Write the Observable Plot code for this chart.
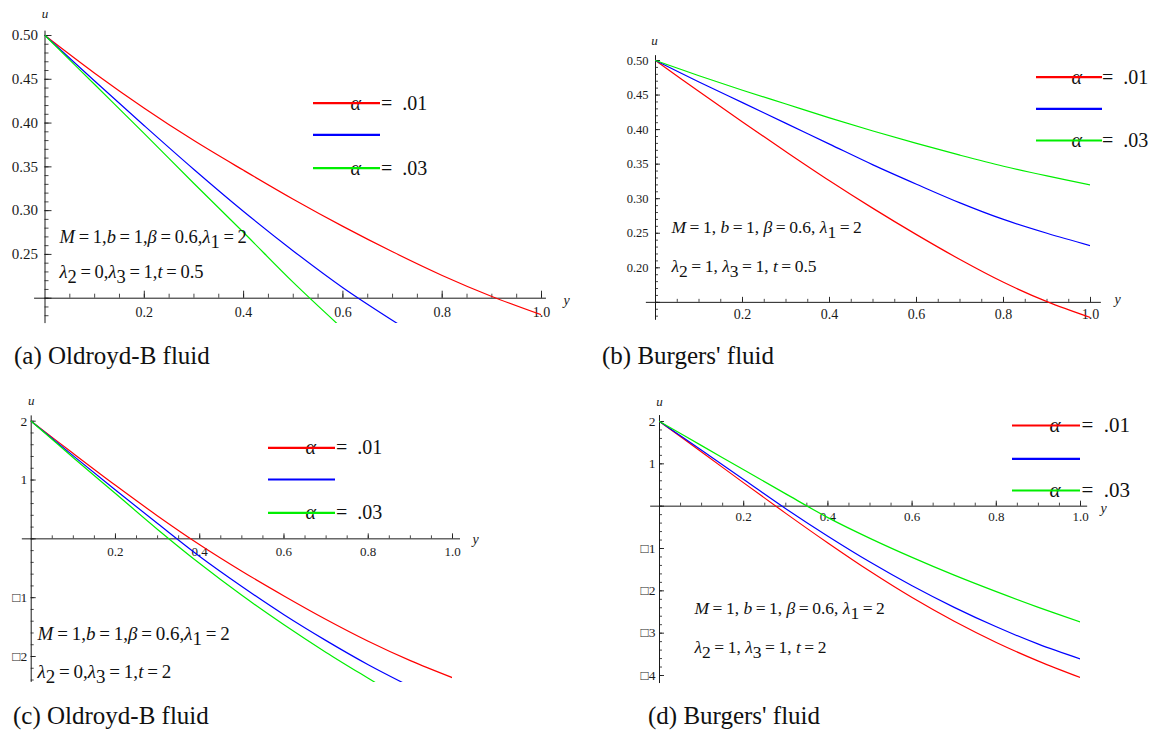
<!DOCTYPE html>
<html><head><meta charset="utf-8">
<script src="https://cdn.jsdelivr.net/npm/d3@7"></script>
<script src="https://cdn.jsdelivr.net/npm/@observablehq/plot@0.6"></script>
<style>
html,body{margin:0;padding:0;background:#fff;}
#root{position:relative;width:1156px;height:735px;overflow:hidden;font-family:"Liberation Serif","Times New Roman",serif;background:#fff;color:#111;}
.panel{position:absolute;}
.cap{position:absolute;font-size:25px;line-height:25px;white-space:nowrap;color:#111;}
</style></head><body><div id="root"></div>
<script>
// ---------- data ----------
const yPos = [0, 0.1, 0.2, 0.3, 0.4, 0.5, 0.6, 0.7, 0.8, 0.9, 1.0];

// (a) Oldroyd-B, t = 0.5
const aRed   = [0.5, 0.457, 0.417, 0.380, 0.346, 0.313, 0.282, 0.253, 0.226, 0.202, 0.181];
const aBlueY = [0, 0.1, 0.2, 0.3, 0.4, 0.5, 0.6, 0.71];
const aBlue  = [0.5, 0.448, 0.397, 0.347, 0.299, 0.254, 0.212, 0.171];
const aGreenY = [0, 0.1, 0.2, 0.3, 0.4, 0.5, 0.594];
const aGreen  = [0.5, 0.444, 0.388, 0.331, 0.275, 0.218, 0.168];

// (b) Burgers', t = 0.5
const bRed   = [0.5, 0.455, 0.411, 0.368, 0.326, 0.286, 0.248, 0.212, 0.179, 0.151, 0.128];
const bBlue  = [0.5, 0.469, 0.439, 0.409, 0.379, 0.349, 0.321, 0.294, 0.270, 0.250, 0.232];
const bGreen = [0.5, 0.478, 0.457, 0.437, 0.417, 0.398, 0.380, 0.363, 0.347, 0.333, 0.320];

// (c) Oldroyd-B, t = 2
const cRed   = [2, 1.45, 0.91, 0.39, -0.10, -0.55, -0.97, -1.37, -1.74, -2.07, -2.36];
const cBlueY = [0, 0.1, 0.2, 0.3, 0.4, 0.5, 0.6, 0.7, 0.8, 0.9];
const cBlue  = [2, 1.41, 0.83, 0.26, -0.30, -0.81, -1.29, -1.73, -2.14, -2.51];
const cGreenY = [0, 0.1, 0.2, 0.3, 0.4, 0.5, 0.6, 0.7, 0.8, 0.83];
const cGreen  = [2, 1.38, 0.77, 0.16, -0.42, -0.96, -1.46, -1.93, -2.37, -2.50];

// (d) Burgers', t = 2
const dRed   = [2, 1.28, 0.55, -0.17, -0.87, -1.54, -2.16, -2.72, -3.22, -3.66, -4.05];
const dBlue  = [2, 1.32, 0.63, -0.06, -0.71, -1.32, -1.88, -2.39, -2.85, -3.26, -3.61];
const dGreen = [2, 1.43, 0.86, 0.29, -0.27, -0.76, -1.21, -1.63, -2.02, -2.39, -2.74];

const seriesColors = ["#ff0000", "#0000ff", "#00ee00"];
const legendLabels = ["*α*\u2003=\u2002.01", "", "*α*\u2003=\u2002.03"];
const captions = ["(a) Oldroyd-B fluid", "(b) Burgers' fluid", "(c) Oldroyd-B fluid", "(d) Burgers' fluid"];

const xTickValues = [0.2, 0.4, 0.6, 0.8, 1.0];
const xTickLabels = ["0.2", "0.4", "0.6", "0.8", "1.0"];
const aTickValues = [0.25, 0.30, 0.35, 0.40, 0.45, 0.50];
const aTickLabels = ["0.25", "0.30", "0.35", "0.40", "0.45", "0.50"];
const bTickValues = [0.20, 0.25, 0.30, 0.35, 0.40, 0.45, 0.50];
const bTickLabels = ["0.20", "0.25", "0.30", "0.35", "0.40", "0.45", "0.50"];
const cTickValues = [-2, -1, 1, 2];
const cTickLabels = ["□2", "□1", "1", "2"];
const dTickValues = [-4, -3, -2, -1, 1, 2];
const dTickLabels = ["□4", "□3", "□2", "□1", "1", "2"];

const T = "\u2009";
const paramsA = [`*M*${T}=${T}1,*b*${T}=${T}1,*β*${T}=${T}0.6,*λ*_1${T}=${T}2`, `*λ*_2${T}=${T}0,*λ*_3${T}=${T}1,*t*${T}=${T}0.5`];
const paramsB = [`*M*${T}=${T}1, *b*${T}=${T}1, *β*${T}=${T}0.6, *λ*_1${T}=${T}2`, `*λ*_2${T}=${T}1, *λ*_3${T}=${T}1, *t*${T}=${T}0.5`];
const paramsC = [`*M*${T}=${T}1,*b*${T}=${T}1,*β*${T}=${T}0.6,*λ*_1${T}=${T}2`, `*λ*_2${T}=${T}0,*λ*_3${T}=${T}1,*t*${T}=${T}2`];
const paramsD = [`*M*${T}=${T}1, *b*${T}=${T}1, *β*${T}=${T}0.6, *λ*_1${T}=${T}2`, `*λ*_2${T}=${T}1, *λ*_3${T}=${T}1, *t*${T}=${T}2`];

// ---------- layout ----------
const xMinorAll = d3.range(1, 21).map(i => +(i * 0.05).toFixed(2));
const panels = [
  {left: 0, top: 0, width: 580, height: 330, x0px: 44.5, x1px: 541, uA: 0.5, uApx: 35, uB: 0.2, uBpx: 297.7,
   yDomain: [0.171, 0.52], axisU: 0.2, xAxis: [-0.021, 1.01], uAxis: [0.171, 0.505],
   uMinor: d3.range(18, 51).map(i => i / 100), uMajorTicks: d3.range(4, 11).map(i => i * 0.05),
   uTicks: aTickValues, uLabels: aTickLabels, tick: [7, 4], xFont: 14, yFont: 15, xLabelDy: 14, yLabelDx: -7,
   uName: [44.5, 13], yName: [566, 300],
   curves: [{y: yPos, u: aRed}, {y: aBlueY, u: aBlue}, {y: aGreenY, u: aGreen}],
   legend: {x0: 313, x1: 380, ys: [102.7, 134.3, 167.7], tx: 350, font: 20},
   params: {lines: paramsA, x: 59, base: [242, 277], font: 18.5}},
  {left: 590, top: 30, width: 566, height: 300, x0px: 655, x1px: 1090, uA: 0.5, uApx: 60, uB: 0.2, uBpx: 267.3,
   yDomain: [0.124, 0.52], axisU: 0.15, xAxis: [-0.021, 1.025], uAxis: [0.124, 0.507],
   uMinor: d3.range(13, 51).map(i => i / 100), uMajorTicks: d3.range(3, 11).map(i => i * 0.05),
   uTicks: bTickValues, uLabels: bTickLabels, tick: [5, 3], xFont: 14, yFont: 12.5, xLabelDy: 12, yLabelDx: -7,
   uName: [654, 40], yName: [1117, 299],
   curves: [{y: yPos, u: bRed}, {y: yPos, u: bBlue}, {y: yPos, u: bGreen}],
   legend: {x0: 1036, x1: 1102, ys: [76.7, 108.3, 140], tx: 1071, font: 20},
   params: {lines: paramsB, x: 671, base: [232.7, 271.7], font: 17.5}},
  {left: 0, top: 380, width: 480, height: 310, x0px: 30.7, x1px: 452, uA: 2, uApx: 420.7, uB: -2, uBpx: 656,
   yDomain: [-2.44, 2.3], axisU: 0, xAxis: [-0.021, 1.019], uAxis: [-2.44, 2.09],
   uMinor: d3.range(-12, 11).map(i => i / 5), uMajorTicks: [-2, -1, 0, 1, 2],
   uTicks: cTickValues, uLabels: cTickLabels, tick: [5, 3], xFont: 13, yFont: 13.5, xLabelDy: 13, yLabelDx: -4,
   uName: [30.7, 400], yName: [475, 539],
   curves: [{y: yPos, u: cRed}, {y: cBlueY, u: cBlue}, {y: cGreenY, u: cGreen}],
   legend: {x0: 268, x1: 335, ys: [447.3, 479, 512.3], tx: 305, font: 20},
   params: {lines: paramsC, x: 37, base: [639, 677], font: 19}},
  {left: 630, top: 380, width: 526, height: 310, x0px: 659, x1px: 1080, uA: 2, uApx: 421, uB: -4, uBpx: 675,
   yDomain: [-4.19, 2.4], axisU: 0, xAxis: [-0.021, 1.017], uAxis: [-4.19, 2.14],
   uMinor: d3.range(-20, 11).map(i => i / 5), uMajorTicks: [-4, -3, -2, -1, 0, 1, 2],
   uTicks: dTickValues, uLabels: dTickLabels, tick: [5, 3], xFont: 13, yFont: 13.5, xLabelDy: 11, yLabelDx: -4,
   uName: [659, 401.7], yName: [1103, 508],
   curves: [{y: yPos, u: dRed}, {y: yPos, u: dBlue}, {y: yPos, u: dGreen}],
   legend: {x0: 1012, x1: 1080, ys: [425, 458.3, 490], tx: 1049, font: 21},
   params: {lines: paramsD, x: 694, base: [613, 652], font: 17.5}}
];
const captionPos = [[14, 343], [602, 343], [13, 703], [648, 703]];

// ---------- rendering ----------
function rich(svg) {
  d3.select(svg).selectAll("text").each(function () {
    const s = this.textContent;
    if (!/[*_]/.test(s)) return;
    const el = d3.select(this);
    el.text(null);
    const re = /\*([^*]+)\*|_(\d)|([^*_]+)/g;
    let m, shifted = false;
    while ((m = re.exec(s))) {
      if (m[2]) { el.append("tspan").attr("dy", "0.3em").text(m[2]); shifted = true; continue; }
      const t = el.append("tspan").text(m[1] || m[3]);
      if (m[1]) t.attr("font-style", "italic");
      if (shifted) { t.attr("dy", "-0.3em"); shifted = false; }
    }
  });
}

const ink = "#1a1a1a";
const root = document.getElementById("root");

function buildPanel(p) {
  const kx = p.x1px - p.x0px;
  const ky = (p.uBpx - p.uApx) / (p.uA - p.uB);
  const py = u => p.uApx + (p.uA - u) * ky;
  const xd = px => (px - p.x0px) / kx;
  const ud = y => p.uA - (y - p.uApx) / ky;
  const mt = py(p.yDomain[1]) - p.top, mb = p.top + p.height - py(p.yDomain[0]);
  const ml = p.x0px - p.left, mr = p.left + p.width - p.x1px;
  const marks = [];
  marks.push(Plot.ruleY([p.axisU], {x1: p.xAxis[0], x2: p.xAxis[1], stroke: ink, strokeWidth: 1}));
  marks.push(Plot.ruleX([0], {y1: p.uAxis[0], y2: p.uAxis[1], stroke: ink, strokeWidth: 1}));
  marks.push(Plot.ruleX(xMinorAll, {x: d => d, y1: p.axisU, y2: p.axisU + p.tick[1] / ky, stroke: ink, strokeWidth: 0.8}));
  marks.push(Plot.ruleX(xTickValues, {x: d => d, y1: p.axisU, y2: p.axisU + p.tick[0] / ky, stroke: ink, strokeWidth: 0.9}));
  marks.push(Plot.ruleY(p.uMinor, {y: d => d, x1: 0, x2: p.tick[1] / kx, stroke: ink, strokeWidth: 0.8}));
  marks.push(Plot.ruleY(p.uMajorTicks, {y: d => d, x1: 0, x2: p.tick[0] / kx, stroke: ink, strokeWidth: 0.9}));
  marks.push(Plot.text(xTickValues, {x: d => d, y: p.axisU, dy: p.xLabelDy, text: (d, i) => xTickLabels[i], fontSize: p.xFont, fill: ink}));
  marks.push(Plot.text(p.uTicks, {x: 0, y: d => d, dx: p.yLabelDx, textAnchor: "end", text: (d, i) => p.uLabels[i], fontSize: p.yFont, fill: ink}));
  marks.push(Plot.text(["u"], {x: xd(p.uName[0]), y: ud(p.uName[1]), text: d => d, fontStyle: "italic", fontSize: 13, fill: ink}));
  marks.push(Plot.text(["y"], {x: xd(p.yName[0]), y: ud(p.yName[1]), text: d => d, fontStyle: "italic", fontSize: 14, fill: ink}));
  p.curves.forEach((c, i) => {
    const rows = c.y.map((v, j) => ({y: v, u: c.u[j]}));
    marks.push(Plot.line(rows, {x: "y", y: "u", stroke: seriesColors[i], strokeWidth: 1.2, curve: "catmull-rom", clip: true}));
  });
  const L = p.legend;
  legendLabels.forEach((lab, i) => {
    if (lab) marks.push(Plot.text([lab], {x: xd(L.tx), y: ud(L.ys[i]), text: d => d, textAnchor: "start", fontSize: L.font, fill: "#111"}));
    marks.push(Plot.ruleY([ud(L.ys[i])], {x1: xd(L.x0), x2: xd(L.x1), stroke: seriesColors[i], strokeWidth: 2.2}));
  });
  const P = p.params;
  P.lines.forEach((line, i) => {
    marks.push(Plot.text([line], {x: xd(P.x), y: ud(P.base[i] - 0.32 * P.font), text: d => d, textAnchor: "start", fontSize: P.font, fill: "#111"}));
  });
  const svg = Plot.plot({
    width: p.width, height: p.height,
    marginLeft: ml, marginRight: mr, marginTop: mt, marginBottom: mb,
    x: {domain: [0, 1], axis: null},
    y: {domain: p.yDomain, axis: null},
    style: {fontFamily: '"Liberation Serif", "Times New Roman", serif', overflow: "visible", background: "transparent"},
    marks
  });
  rich(svg);
  const div = document.createElement("div");
  div.className = "panel";
  div.style.left = p.left + "px";
  div.style.top = p.top + "px";
  div.style.width = p.width + "px";
  div.style.height = p.height + "px";
  div.appendChild(svg);
  root.appendChild(div);
}

panels.forEach(buildPanel);
captions.forEach((c, i) => {
  const d = document.createElement("div");
  d.className = "cap";
  d.style.left = captionPos[i][0] + "px";
  d.style.top = captionPos[i][1] + "px";
  d.textContent = c;
  root.appendChild(d);
});
</script></body></html>
